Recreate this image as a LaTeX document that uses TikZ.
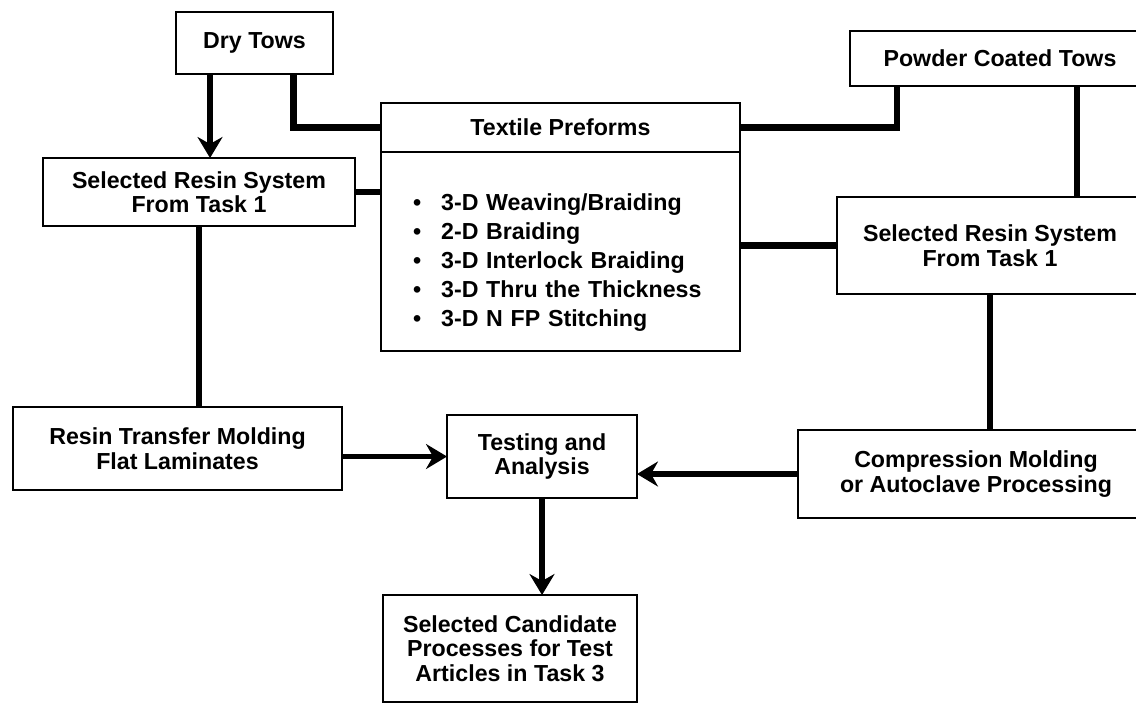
\documentclass[tikz,border=0pt]{standalone}
\usepackage{fontspec}
\setmainfont{Liberation Sans}
\usetikzlibrary{arrows.meta,positioning}

\tikzset{
  box/.style={draw, line width=1.6pt, outer sep=0pt, inner sep=2pt, align=center,
    font=\bfseries\fontsize{13.2}{14}\selectfont},
  link/.style={line width=3.8pt},
  flow/.style={line width=3.4pt, -{Stealth[length=0.42cm,width=0.5cm,inset=0.14cm]}},
}

\begin{document}
\begin{tikzpicture}[x=0.02cm, y=-0.02cm]
  \useasboundingbox (0,0) rectangle (1136,708);
  \fill[white] (0,0) rectangle (1136,708);

  % source tows
  \node[box, minimum width=3.14cm, minimum height=1.24cm] (drytows) at (254.5,43) {Dry Tows};
  \node[box, minimum width=6cm, minimum height=1.1cm] (powder) at (1000,58.5) {Powder Coated Tows};

  % preform box, header plus list (strut pushes the list down a bit)
  \node[box, minimum width=7.18cm, minimum height=0.98cm] (prefhead) at (560.5,127.5) {Textile Preforms};
  \node[box, minimum width=7.18cm, minimum height=3.98cm, align=left, inner xsep=0.64cm,
    text width=5.9cm, font=\bfseries\fontsize{13.2}{16.5}\selectfont,
    below=0pt of prefhead] (preflist) {%
    \rule{0pt}{0.78cm}\textbullet\hspace{0.4cm}3-D Weaving/Braiding\\
    \textbullet\hspace{0.4cm}2-D Braiding\\
    \textbullet\hspace{0.4cm}3-D Interlock Braiding\\
    \textbullet\hspace{0.4cm}3-D Thru the Thickness\\
    \textbullet\hspace{0.4cm}3-D N FP Stitching};

  % resin systems
  \node[box, minimum width=6.24cm, minimum height=1.36cm] (resinL) at (199,192) {Selected Resin System\\From Task 1};
  \node[box, minimum width=6.12cm, minimum height=1.94cm] (resinR) at (990,245.5) {Selected Resin System\\From Task 1};

  % processing
  \node[box, minimum width=6.58cm, minimum height=1.66cm] (rtm) at (177.5,448.5) {Resin Transfer Molding\\Flat Laminates};
  \node[box, minimum width=3.8cm, minimum height=1.66cm] (testing) at (542,456.5) {Testing and\\Analysis};
  \node[box, minimum width=7.12cm, minimum height=1.76cm] (compress) at (976,474) {Compression Molding\\or Autoclave Processing};
  \node[box, minimum width=5.08cm, minimum height=2.14cm] (candidate) at (510,648.5) {Selected Candidate\\Processes for Test\\Articles in Task 3};

  % connections
  \draw[flow] ([xshift=-0.89cm]drytows.south) -- ([xshift=-0.89cm]drytows.south |- resinL.north);
  \draw[link] ([xshift=0.78cm]drytows.south) |- (prefhead.west);
  \draw[link] (resinL.east) -- (resinL.east -| preflist.west);
  \draw[link] (prefhead.east) -| ([xshift=-2.06cm]powder.south);
  \draw[link] ([xshift=1.54cm]powder.south) -- ([xshift=1.54cm]powder.south |- resinR.north);
  \draw[link] (resinR.west -| preflist.east) -- (resinR.west);
  \draw[link] (resinL.south) -- (resinL.south |- rtm.north);
  \draw[link] (resinR.south) -- (resinR.south |- compress.north);
  \draw[flow] (testing.west -| rtm.east) -- (testing.west);
  \draw[flow] (compress.west) -- (compress.west -| testing.east);
  \draw[flow] (testing.south) -- (testing.south |- candidate.north);
\end{tikzpicture}
\end{document}
